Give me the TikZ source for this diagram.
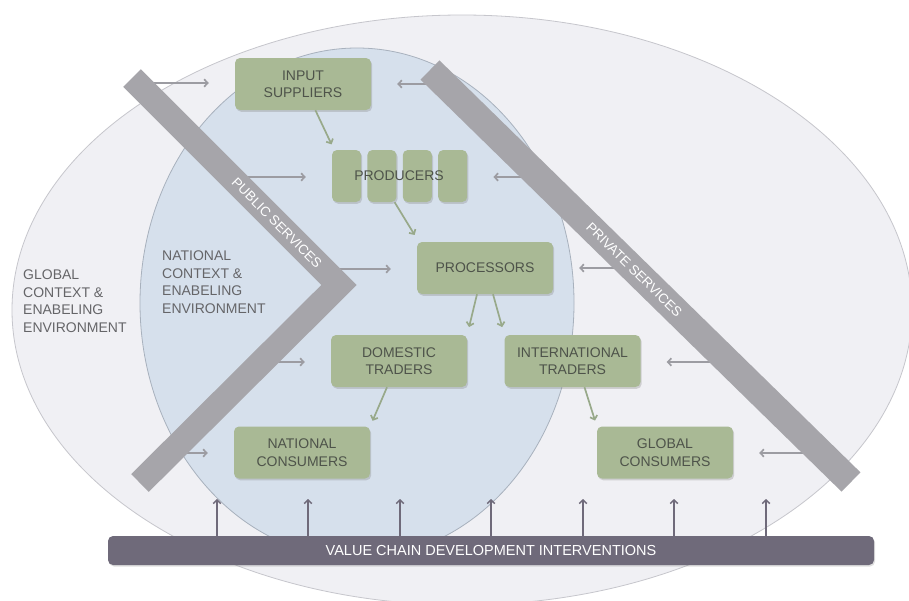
\documentclass[tikz,border=0pt]{standalone}
\usepackage{fontspec}
\setmainfont{Liberation Sans}
\usetikzlibrary{positioning, arrows.meta, shadows}
\definecolor{globalfill}{HTML}{F0F0F4}
\definecolor{globalline}{HTML}{C6C6CC}
\definecolor{nationalfill}{HTML}{D6E0EC}
\definecolor{nationalline}{HTML}{A8B1BD}
\definecolor{boxgreen}{HTML}{A9B995}
\definecolor{boxtext}{HTML}{4E534A}
\definecolor{labeltext}{HTML}{656568}
\definecolor{bandgray}{HTML}{A6A5AA}
\definecolor{barpurple}{HTML}{6F6A7A}
\definecolor{svcgray}{HTML}{9C9CA2}
\definecolor{flowgreen}{HTML}{98A98A}
\tikzstyle{Box} = [
rectangle, rounded corners=5pt, fill=boxgreen, text=boxtext,
minimum width=136pt, minimum height=52pt, inner sep=0pt, align=center,
font=\fontsize{14}{17.5}\selectfont,
drop shadow={shadow xshift=1.2pt, shadow yshift=-1.8pt, opacity=0.3}]
\tikzstyle{Grower} = [
Box, minimum width=29pt]
\tikzstyle{BoxText} = [
text=boxtext, font=\fontsize{14}{17.5}\selectfont]
\tikzstyle{Label} = [
text=labeltext, align=left, inner sep=0pt,
font=\fontsize{14}{17.5}\selectfont]
\tikzstyle{Band} = [
draw=bandgray, line cap=butt, line join=miter]
\tikzstyle{BandText} = [
text=white, font=\fontsize{13.5}{15}\selectfont]
\tikzstyle{Bar} = [
rectangle, rounded corners=5pt, fill=barpurple, text=white,
minimum width=766pt, minimum height=29pt, inner sep=0pt,
font=\fontsize{14.5}{16}\selectfont,
drop shadow={shadow xshift=1pt, shadow yshift=-1.5pt, opacity=0.25}]
\tikzstyle{Flow} = [
draw=flowgreen, line width=1.7pt,
-{Straight Barb[length=3.5pt, width=7.5pt]}, shorten >= 6pt]
\tikzstyle{Service} = [
draw=svcgray, line width=1.7pt,
-{Straight Barb[length=3.5pt, width=7.5pt]}, shorten >= 26pt]
\tikzstyle{Lift} = [
draw=barpurple, line width=1.5pt,
-{Straight Barb[length=3.5pt, width=7.5pt]}]

\begin{document}
\begin{tikzpicture}[x=1pt, y=-1pt]
    \clip (0,0) rectangle (909,600);
    \fill[white] (0,0) rectangle (909,600);
    \filldraw[fill=globalfill, draw=globalline, line width=0.8pt] (462,310) ellipse [x radius=450pt, y radius=295pt];
    \filldraw[fill=nationalfill, draw=nationalline, line width=0.8pt] (357,303) ellipse [x radius=217pt, y radius=255pt];
    \node [Label, anchor=west] (g) at (23,301) {GLOBAL\\CONTEXT \&\\ENABELING\\ENVIRONMENT};
    \node [Label, anchor=west] (n) at (162,282) {NATIONAL\\CONTEXT \&\\ENABELING\\ENVIRONMENT};
    \node [Box] (1) at (303,84) {INPUT\\SUPPLIERS};
    \node [Grower] (p1) at (346.5,176) {};
    \node [Grower, right=6pt of p1] (p2) {};
    \node [Grower, right=6pt of p2] (p3) {};
    \node [Grower, right=6pt of p3] (p4) {};
    \node [BoxText] (2) at (399,176) {PRODUCERS};
    \node [Box] (3) at (485,268) {PROCESSORS};
    \node [Box] (4) at (399,361) {DOMESTIC\\TRADERS};
    \node [Box] (5) at (572.5,361) {INTERNATIONAL\\TRADERS};
    \node [Box] (6) at (302,452.5) {NATIONAL\\CONSUMERS};
    \node [Box] (7) at (665,452.5) {GLOBAL\\CONSUMERS};
    \coordinate (a1) at (150,83);
    \coordinate (a2) at (245,177);
    \coordinate (a3) at (338,269);
    \coordinate (a4) at (275,362);
    \coordinate (a5) at (180,453);
    \coordinate (b1) at (435,84);
    \coordinate (b2) at (528,177);
    \coordinate (b3) at (620,268);
    \coordinate (b4) at (715,362);
    \coordinate (b5) at (808,453);
    \draw[Service] (a1) -- (a1 -| 1.west);
    \draw[Service] (a2) -- (a2 -| p1.west);
    \draw[Service] (a3) -- (a3 -| 3.west);
    \draw[Service] (a4) -- (a4 -| 4.west);
    \draw[Service] (a5) -- (a5 -| 6.west);
    \draw[Service] (b1) -- (b1 -| 1.east);
    \draw[Service] (b2) -- (b2 -| p4.east);
    \draw[Service] (b3) -- (b3 -| 3.east);
    \draw[Service] (b4) -- (b4 -| 5.east);
    \draw[Service] (b5) -- (b5 -| 7.east);
    \coordinate (pub1) at (132,78);
    \coordinate (pubv) at (339,285);
    \coordinate (pub2) at (140,483);
    \coordinate (prv1) at (430,70);
    \coordinate (prv2) at (851,482);
    \draw[Band, line width=25pt] (pub1) -- node[BandText, pos=0.7, sloped] (pubtext) {PUBLIC SERVICES} (pubv) -- (pub2);
    \draw[Band, line width=27pt] (prv1) -- node[BandText, pos=0.485, sloped] (prvtext) {PRIVATE SERVICES} (prv2);
    \draw[Flow] (1) -- (p1);
    \draw[Flow, shorten >= 8pt] ([xshift=-2pt]p2.south east) -- ([xshift=2pt]3.north west);
    \draw[Flow, shorten >= 8pt] ([xshift=-8pt]3.south) -- (4.north east);
    \draw[Flow, shorten >= 8pt] ([xshift=8pt]3.south) -- (5.north west);
    \draw[Flow] ([xshift=-12pt]4.south) -- (6.north east);
    \draw[Flow] ([xshift=12pt]5.south) -- (7.north west);
    \node [Bar] (8) at (491,550.5) {VALUE CHAIN DEVELOPMENT INTERVENTIONS};
    \coordinate (u1) at (217,499);
    \coordinate (u2) at (308,499);
    \coordinate (u3) at (400,499);
    \coordinate (u4) at (491,499);
    \coordinate (u5) at (583,499);
    \coordinate (u6) at (674,499);
    \coordinate (u7) at (766,499);
    \draw[Lift] (u1 |- 8.north) -- (u1);
    \draw[Lift] (u2 |- 8.north) -- (u2);
    \draw[Lift] (u3 |- 8.north) -- (u3);
    \draw[Lift] (u4 |- 8.north) -- (u4);
    \draw[Lift] (u5 |- 8.north) -- (u5);
    \draw[Lift] (u6 |- 8.north) -- (u6);
    \draw[Lift] (u7 |- 8.north) -- (u7);
\end{tikzpicture}
\end{document}
